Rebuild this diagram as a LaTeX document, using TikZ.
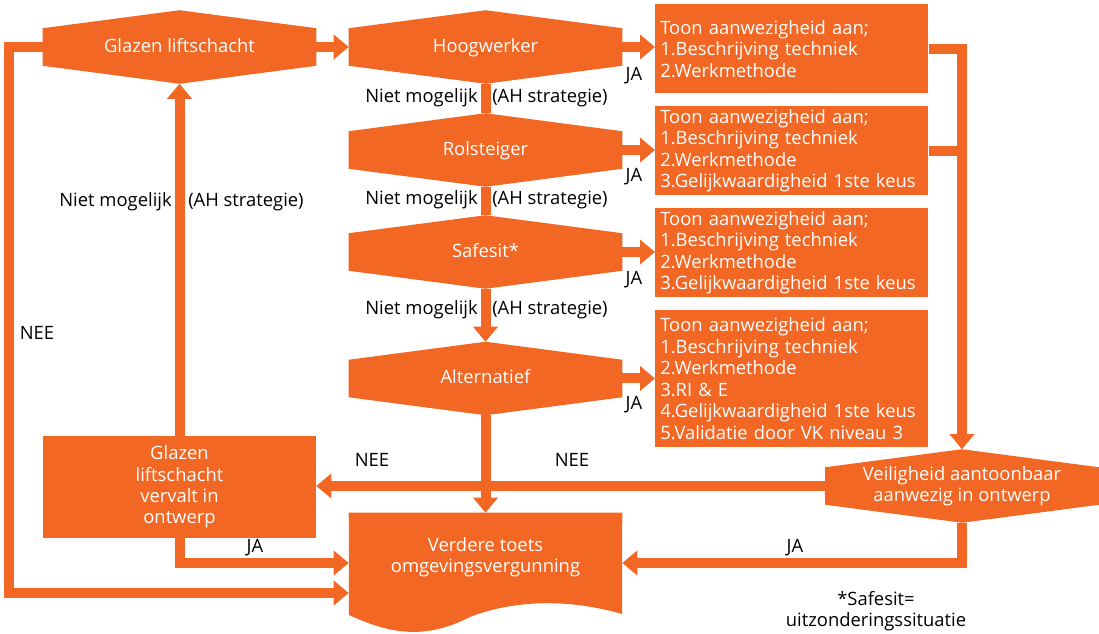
\documentclass[tikz,border=0pt]{standalone}
\usepackage{fontspec}
\setmainfont{Open Sans}
\usetikzlibrary{arrows.meta,calc,backgrounds}
\definecolor{oranje}{RGB}{242,103,36}

% filled hexagon behind a node: flat sides left/right, points top/bottom
\newcommand\hexfill[2][18]{%
  \fill[oranje] (#2.north) -- ($(#2.north east)+(0,#1)$) -- ($(#2.south east)+(0,-#1)$)
    -- (#2.south) -- ($(#2.south west)+(0,-#1)$) -- ($(#2.north west)+(0,#1)$) -- cycle;}

\begin{document}
\begin{tikzpicture}[x=0.75pt,y=-0.75pt,
  font=\fontsize{13.8}{16.1}\selectfont,
  hexbase/.style={minimum width=204.75pt,minimum height=54.75pt,inner sep=0pt,
    text=white},
  hexa/.style={hexbase,align=center},
  hexaone/.style={hexbase,text height=0.8em,text depth=0pt},
  infobox/.style={fill=oranje,text=white,align=left,text width=197.25pt,
    inner xsep=3.75pt,inner ysep=0pt,anchor=north west},
  plainbox/.style={minimum width=204.75pt,inner sep=0pt,text=white,align=center},
  lbl/.style={inner sep=0pt,text=black,text height=0.72em,text depth=0pt},
  conn/.style={draw=oranje,line width=7.5pt},
  arr/.style={conn,-{Triangle[width=18pt,length=11.25pt]}},
]
\useasboundingbox (0,0) rectangle (1099,634);

% decision hexagons
\node[hexaone] (glazen) at (179.5,47) {Glazen liftschacht};
\node[hexaone] (hoog)   at (485.5,47) {Hoogwerker};
\node[hexaone] (rol)    at (485.5,150) {Rolsteiger};
\node[hexaone] (safe)   at (485.5,252) {Safesit*};
\node[hexaone] (alt)    at (485.5,378.5) {Alternatief};
\node[hexa] (veilig) at (962,486) {Veiligheid aantoonbaar\\aanwezig in ontwerp};

% requirement boxes
\node[infobox,minimum height=66.75pt] (box1) at (655,4)
  {Toon aanwezigheid aan;\\1.Beschrijving techniek\\2.Werkmethode};
\node[infobox,minimum height=66.75pt] (box2) at (655,106)
  {Toon aanwezigheid aan;\\1.Beschrijving techniek\\2.Werkmethode\\3.Gelijkwaardigheid 1ste keus};
\node[infobox,minimum height=66.75pt] (box3) at (655,208)
  {Toon aanwezigheid aan;\\1.Beschrijving techniek\\2.Werkmethode\\3.Gelijkwaardigheid 1ste keus};
\node[infobox,minimum height=102.75pt] (box4) at (655,310)
  {Toon aanwezigheid aan;\\1.Beschrijving techniek\\2.Werkmethode\\3.RI \& E\\4.Gelijkwaardigheid 1ste keus\\5.Validatie door VK niveau 3};

% rejection box and final document
\node[plainbox,fill=oranje,minimum height=76.5pt] (vervalt) at (179.5,487)
  {Glazen\\liftschacht\\vervalt in\\ontwerp};
\node[plainbox,minimum height=66pt] (verdere) at (485.5,557)
  {Verdere toets\\omgevingsvergunning};

\begin{scope}[on background layer]
  \hexfill{glazen}
  \hexfill{hoog}
  \hexfill{rol}
  \hexfill{safe}
  \hexfill{alt}
  \hexfill{veilig}
  % document shape with wavy lower edge
  \fill[oranje] (verdere.north west) -- (verdere.north east) -- (622,614)
    .. controls (560,596) and (505,603) .. (470,617)
    .. controls (425,640) and (390,634) .. (349,615) -- cycle;
\end{scope}

% entry points on the document
\coordinate (docinA) at ($(verdere.west)+(0,6)$);
\coordinate (docinB) at ($(verdere.west)+(0,36)$);
\coordinate (docinC) at ($(verdere.east)+(0,6)$);
\coordinate (loopx) at (9,0);

% main flow
\draw[arr] (glazen.east) -- (hoog.west);
\draw[conn] (hoog.south) -- (rol.north);
\draw[conn] (rol.south) -- (safe.north);
\draw[arr] (safe.south) -- (alt.north);
\draw[arr] (alt.south) -- (verdere.north);

% JA branches to the boxes
\draw[arr] (hoog.east) -- (hoog.east -| box1.west);
\draw[arr] (rol.east) -- (rol.east -| box2.west);
\draw[arr] (safe.east) -- (safe.east -| box3.west);
\draw[arr] (alt.east) -- (alt.east -| box4.west);

% boxes to the safety check
\draw[arr] (box1.east) -| (veilig.north);
\draw[conn] (box2.east) -- (box2.east -| veilig.north);

% outcome of the safety check
\draw[arr] (veilig.west) -- (veilig.west -| vervalt.east);
\draw[arr] (veilig.south) |- (docinC);
\draw[arr] (vervalt.north) -- (glazen.south);
\draw[arr] (vervalt.south) |- (docinA);
\draw[arr] (glazen.west) -- (glazen.west -| loopx) -- (loopx |- docinB) -- (docinB);

% labels
\foreach \y/\n in {98/a,200/b,310/c}{
  \node[lbl,anchor=east] (nm\n) at (478,\y) {Niet mogelijk};
  \node[lbl,anchor=west] (ah\n) at (492,\y) {(AH strategie)};
}
\node[lbl,anchor=east] (nmd) at (172,202) {Niet mogelijk};
\node[lbl,anchor=west] (ahd) at (188,202) {(AH strategie)};
\foreach \y/\n in {76/a,177/b,280/c,405/d}{
  \node[lbl] (ja\n) at (634,\y) {JA};
}
\node[lbl] (jae) at (255,548) {JA};
\node[lbl] (jaf) at (795,548) {JA};
\node[lbl] (neea) at (37,335) {NEE};
\node[lbl] (neeb) at (372,462) {NEE};
\node[lbl] (neec) at (572,462) {NEE};
\node[inner sep=0pt,align=center] (note) at (876,611)
  {*Safesit=\\uitzonderingssituatie};
\end{tikzpicture}
\end{document}
